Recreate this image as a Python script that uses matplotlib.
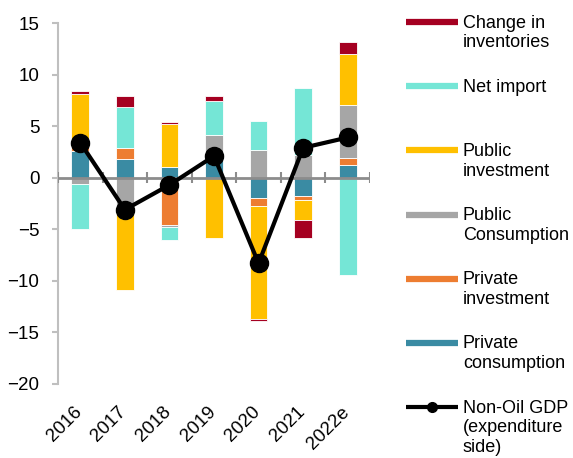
import numpy as np
import matplotlib
matplotlib.use('Agg')
import matplotlib.pyplot as plt
import matplotlib.transforms as mtransforms
from matplotlib.lines import Line2D

plt.rcParams['font.family'] = ['Liberation Sans', 'DejaVu Sans']

years = ['2016', '2017', '2018', '2019', '2020', '2021', '2022e']
priv_cons = [2.6, 1.8, 1.0, 2.0, -2.0, -1.8, 1.2]
priv_inv = [0.5, 1.1, -4.6, 0.0, -0.7, -0.4, 0.75]
pub_cons = [-0.6, -3.1, -0.15, 2.1, 2.7, 2.2, 5.1]
pub_inv = [5.0, -7.8, 4.25, -5.8, -11.0, -1.9, 4.95]
net_import = [-4.4, 4.0, -1.3, 3.35, 2.8, 6.5, -9.4]
inventories = [0.35, 1.05, 0.2, 0.5, -0.2, -1.75, 1.2]
gdp = [3.4, -3.1, -0.7, 2.1, -8.3, 2.9, 3.9]

# stacking order from the axis outwards
series = [
    ('Private\nconsumption', priv_cons, '#3A8BA3'),
    ('Private\ninvestment', priv_inv, '#ED7D31'),
    ('Public\nConsumption', pub_cons, '#A6A6A6'),
    ('Public\ninvestment', pub_inv, '#FFC000'),
    ('Net import', net_import, '#75E6D6'),
    ('Change in\ninventories', inventories, '#A50021'),
]

fig = plt.figure(figsize=(5.73, 4.58), dpi=100)
ax = fig.add_axes([58 / 573, 1 - 384 / 458, 312 / 573, 361 / 458])

x = np.arange(len(years))
pos_base = np.zeros(len(years))
neg_base = np.zeros(len(years))
for label, vals, color in series:
    vals = np.array(vals, dtype=float)
    bottom = np.where(vals >= 0, pos_base, neg_base)
    ax.bar(x, vals, 0.4, bottom=bottom, color=color, edgecolor='white',
           linewidth=0.6, zorder=2)
    pos_base += np.clip(vals, 0, None)
    neg_base += np.clip(vals, None, 0)

# zero line with category separators
ax.axhline(0, color='#8C8C8C', lw=2, zorder=3)
edges = np.arange(len(years) + 1) - 0.5
ax.vlines(edges, -0.55, 0.55, color='#8C8C8C', lw=1.5, zorder=3)

ax.plot(x, gdp, color='black', lw=3, marker='o', ms=13, zorder=5)

ax.set_xlim(-0.5, len(years) - 0.5)
ax.set_ylim(-20, 15)
ax.set_yticks(np.arange(-20, 16, 5))
for s in ['top', 'right', 'bottom']:
    ax.spines[s].set_visible(False)
ax.spines['left'].set_color('#BFBFBF')
ax.spines['left'].set_linewidth(1.5)
ax.tick_params(axis='y', length=4.5, width=1.5, color='#BFBFBF',
               labelsize=13.5, pad=9)
ax.set_xticks(x)
ax.set_xticklabels(years, rotation=45, ha='right', rotation_mode='anchor')
ax.tick_params(axis='x', length=0, labelsize=13.5, pad=14)
shift = mtransforms.ScaledTranslation(-7 / 100, 0, fig.dpi_scale_trans)
for lab in ax.get_xticklabels():
    lab.set_transform(lab.get_transform() + shift)

# legend drawn by hand at the right
legend_rows = [(l, c, 'bar') for l, _, c in series[::-1]]
legend_rows.append(('Non-Oil GDP\n(expenditure\nside)', 'black', 'line'))
W, H = 573, 458
for i, (label, color, kind) in enumerate(legend_rows):
    yc = 22 + i * 64.2
    yf = 1 - yc / H
    if kind == 'bar':
        fig.add_artist(Line2D([406 / W, 458 / W], [yf, yf], color=color,
                              lw=4.5, solid_capstyle='butt'))
    else:
        fig.add_artist(Line2D([406 / W, 458 / W], [yf, yf], color=color,
                              lw=3, solid_capstyle='butt'))
        fig.add_artist(Line2D([432 / W], [yf], color=color, marker='o',
                              ms=7, lw=0))
    fig.text(463 / W, yf + 7.5 / H, label, fontsize=13, va='top', ha='left',
             linespacing=1.2)

fig.savefig('out.png', dpi=100)
